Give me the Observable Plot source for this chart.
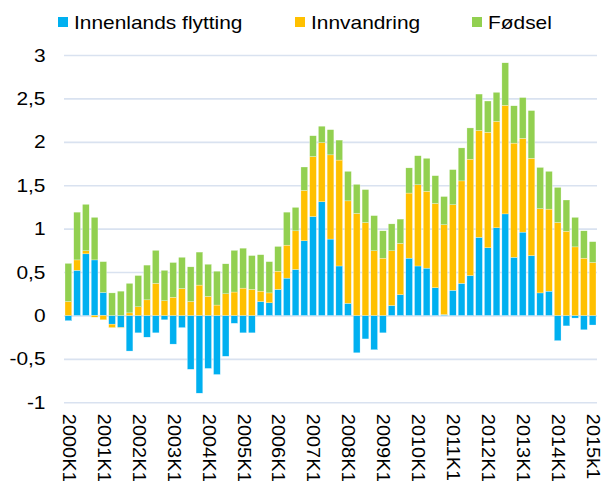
<!DOCTYPE html>
<html><head><meta charset="utf-8">
<script src="https://cdn.jsdelivr.net/npm/d3@7"></script>
<script src="https://cdn.jsdelivr.net/npm/@observablehq/plot@0.6"></script>
<style>
body{margin:0;background:#fff;font-family:"Liberation Sans",Arial,sans-serif;color:#000;}
#legend{position:relative;height:40px;font-size:19px;line-height:19px;}
.sw{position:absolute;width:10px;height:10px;top:17px;}
.lt{position:absolute;top:13px;white-space:nowrap;transform:scaleX(1.1);transform-origin:0 0;}
#chart svg{display:block;}
</style></head><body>
<div id="legend"></div>
<div id="chart"></div>
<script>
const seriesNames = ["Innenlands flytting", "Innvandring", "Fødsel"];
const seriesColors = ["#00B0F0", "#FFC000", "#92D050"];

const quarters = [
"2000K1","2000K2","2000K3","2000K4","2001K1","2001K2","2001K3","2001K4",
"2002K1","2002K2","2002K3","2002K4","2003K1","2003K2","2003K3","2003K4",
"2004K1","2004K2","2004K3","2004K4","2005K1","2005K2","2005K3","2005K4",
"2006K1","2006K2","2006K3","2006K4","2007K1","2007K2","2007K3","2007K4",
"2008K1","2008K2","2008K3","2008K4","2009K1","2009K2","2009K3","2009K4",
"2010K1","2010K2","2010K3","2010K4","2011K1","2011K2","2011K3","2011K4",
"2012K1","2012K2","2012K3","2012K4","2013K1","2013K2","2013K3","2013K4",
"2014K1","2014K2","2014K3","2014K4","2015K1"];

const tickLabels = ["2000K1","2001K1","2002K1","2003K1","2004K1","2005K1","2006K1","2007K1",
"2008K1","2009K1","2010K1","2011K1","2012K1","2013K1","2014K1","2015k1"];

const yTicks = [-1, -0.5, 0, 0.5, 1, 1.5, 2, 2.5, 3];

const innenlands = [
-0.06, 0.52, 0.71, 0.64, 0.265, -0.10, -0.14, -0.41,
-0.20, -0.25, -0.20, -0.05, -0.33, -0.14, -0.62, -0.895,
-0.61, -0.68, -0.47, -0.09, -0.20, -0.20, 0.16, 0.146,
0.30, 0.43, 0.53, 0.86, 1.14, 1.31, 0.88, 0.57,
0.14, -0.43, -0.27, -0.395, -0.20, 0.115, 0.24, 0.66,
0.57, 0.545, 0.32, 0.01, 0.29, 0.37, 0.46, 0.90,
0.78, 1.01, 1.17, 0.67, 0.96, 0.69, 0.26, 0.28,
-0.29, -0.12, -0.03, -0.165, -0.11];

const innvandring = [
0.16, 0.12, 0.035, -0.02, -0.05, -0.04, -0.005, 0.03,
0.10, 0.18, 0.37, 0.17, 0.21, 0.31, 0.16, 0.35,
0.22, 0.12, 0.25, 0.27, 0.315, 0.30, 0.12, 0.114,
0.21, 0.38, 0.445, 0.58, 0.69, 0.68, 0.97, 1.22,
1.18, 1.175, 1.07, 0.745, 0.66, 0.63, 0.59, 0.75,
0.935, 0.885, 0.97, 1.035, 0.985, 1.18, 1.34, 1.23,
1.33, 1.225, 1.25, 1.315, 1.08, 1.12, 0.97, 0.945,
1.07, 0.97, 0.79, 0.66, 0.61];

const fodsel = [
0.44, 0.55, 0.535, 0.49, 0.355, 0.26, 0.28, 0.34,
0.36, 0.40, 0.38, 0.35, 0.40, 0.36, 0.40, 0.38,
0.37, 0.39, 0.345, 0.48, 0.46, 0.39, 0.42, 0.36,
0.285, 0.38, 0.27, 0.27, 0.24, 0.19, 0.29, 0.23,
0.34, 0.335, 0.38, 0.405, 0.315, 0.31, 0.28, 0.29,
0.335, 0.38, 0.32, 0.325, 0.405, 0.38, 0.36, 0.42,
0.36, 0.335, 0.49, 0.43, 0.47, 0.55, 0.475, 0.435,
0.405, 0.36, 0.34, 0.315, 0.24];

const seriesValues = [innenlands, innvandring, fodsel];
const data = [];
seriesNames.forEach((s, si) => {
  quarters.forEach((q, i) => data.push({q, series: s, value: seriesValues[si][i]}));
});

// legend (layout positions only)
const legendSwatchX = [57.5, 294.8, 472];
const legendTextX = [73.5, 311, 487.5];
const legend = document.getElementById("legend");
seriesNames.forEach((s, i) => {
  const sw = document.createElement("span");
  sw.className = "sw";
  sw.style.left = legendSwatchX[i] + "px";
  sw.style.background = seriesColors[i];
  legend.appendChild(sw);
  const t = document.createElement("span");
  t.className = "lt";
  t.style.left = legendTextX[i] + "px";
  t.textContent = s;
  legend.appendChild(t);
});

const fmt = d => String(d).replace(".", ",");
const k1 = quarters.filter((q, i) => i % 4 === 0);

const chart = Plot.plot({
  width: 602,
  height: 441,
  marginTop: 15,
  marginBottom: 78.7,
  marginLeft: 64,
  marginRight: 5,
  style: {fontFamily: "'Liberation Sans', Arial, sans-serif", fontSize: "19px", color: "#000", background: "#fff"},
  x: {domain: quarters, paddingInner: 0.23, paddingOuter: 0.115, align: 0.5},
  y: {domain: [-1, 3]},
  color: {domain: seriesNames, range: seriesColors},
  marks: [
    Plot.gridY(yTicks, {stroke: "#d9e2f0", strokeOpacity: 1, strokeWidth: 1.6}),
    Plot.barY(data, Plot.stackY({x: "q", y: "value", fill: "series", order: seriesNames, stroke: "#ffffff", strokeWidth: 0.4, strokeOpacity: 0.7})),
    Plot.axisY({ticks: yTicks, tickFormat: fmt, tickSize: 0, tickPadding: 19, fontSize: 19, label: null}),
    Plot.axisX({ticks: k1, tickFormat: d => tickLabels[k1.indexOf(d)], tickRotate: 90, tickSize: 0, tickPadding: 11, fontSize: 19, label: null})
  ]
});
document.getElementById("chart").appendChild(chart);

// widen glyphs to match the reference's wide sans rendering
function stretch(sel, k) {
  chart.querySelectorAll(sel).forEach(t => {
    const len = t.getComputedTextLength();
    if (len > 0) {
      t.setAttribute("textLength", len * k);
      t.setAttribute("lengthAdjust", "spacingAndGlyphs");
    }
  });
}
stretch('g[aria-label="y-axis tick label"] text', 1.1);
stretch('g[aria-label="x-axis tick label"] text', 1.05);
</script>
</body></html>
